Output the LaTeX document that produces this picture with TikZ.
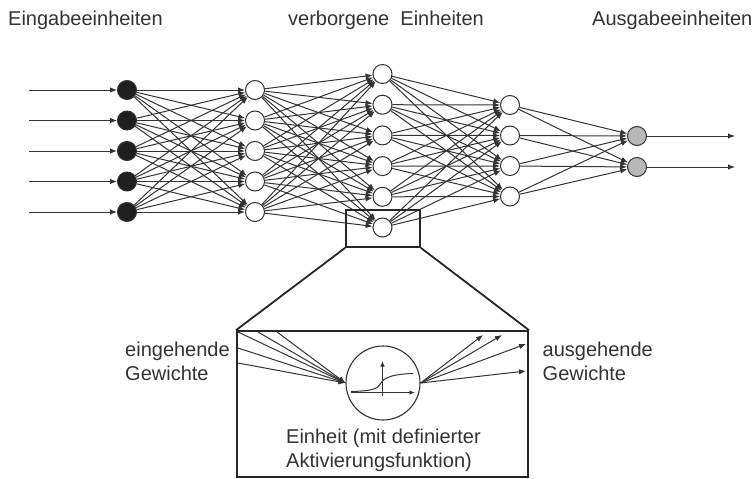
\documentclass[tikz,border=0pt]{standalone}
\usepackage{fontspec}
\setmainfont{Liberation Sans}
\usetikzlibrary{arrows.meta}
\definecolor{linec}{gray}{0.2}
\definecolor{txtc}{gray}{0.2}
\begin{document}
\begin{tikzpicture}[x=1pt,y=-1pt,
  unit/.style={circle,draw=linec,line width=1pt,minimum size=19pt,inner sep=0pt,fill=white},
  inunit/.style={unit,fill=black!88},
  outunit/.style={unit,fill=black!28},
  conn/.style={draw=linec,line width=1pt,-{Latex[length=7pt,width=5.5pt]}},
  frame/.style={draw=black!85,line width=1.8pt,inner sep=0pt},
  lbl/.style={font=\fontsize{20}{24}\selectfont,text=txtc,inner sep=0pt}]
\useasboundingbox (0,0) rectangle (756,479);

% titles
\node[lbl,anchor=base west] (t1) at (8,26) {Eingabeeinheiten};
\node[lbl,anchor=base] (t2) at (386,26) {verborgene~~Einheiten};
\node[lbl,anchor=base west] (t3) at (592,26) {Ausgabeeinheiten};

% units
\foreach \i/\y in {1/90,2/120.5,3/151,4/181.5,5/212} {
  \node[inunit] (a\i) at (127,\y) {};
  \node[unit] (b\i) at (255,\y) {};
  \coordinate (in\i) at (29,\y);
}
\foreach \i/\y in {1/74,2/104.7,3/135.4,4/166.1,5/196.8,6/227.5}
  \node[unit] (c\i) at (382.5,\y) {};
\foreach \i/\y in {1/105,2/135.5,3/166,4/196.5}
  \node[unit] (d\i) at (510,\y) {};
\foreach \i/\y in {1/136,2/167} {
  \node[outunit] (e\i) at (637,\y) {};
  \coordinate (out\i) at (735,\y);
}

% connections
\foreach \i in {1,...,5} \draw[conn] (in\i) -- (a\i);
\foreach \i in {1,...,5} \foreach \j in {1,...,5} \draw[conn] (a\i) -- (b\j);
\foreach \i in {1,...,5} \foreach \j in {1,...,6} \draw[conn] (b\i) -- (c\j);
\foreach \i in {1,...,6} \foreach \j in {1,...,4} \draw[conn] (c\i) -- (d\j);
\foreach \i in {1,...,4} \foreach \j in {1,2} \draw[conn] (d\i) -- (e\j);
\foreach \i in {1,2} \draw[conn] (e\i) -- (out\i);

% zoom
\node[frame,minimum width=74pt,minimum height=37pt] (zoom) at (383,228.5) {};
\node[frame,minimum width=291pt,minimum height=146pt] (big) at (382.5,404) {};
\draw[frame] (zoom.south west) -- (big.north west);
\draw[frame] (zoom.south east) -- (big.north east);

\node[circle,draw=linec,line width=1.1pt,minimum size=74pt,inner sep=0pt] (neuron) at (383,383) {};

\foreach \k/\p in {1/{238,332},2/{258,332},3/{277,332},4/{238,348},5/{238,363}} {
  \coordinate (w\k) at (\p);
  \draw[conn] (w\k) -- (neuron.west);
}
\foreach \k/\p in {1/{483,335},2/{502,335},3/{526,344},4/{526,371}} {
  \coordinate (o\k) at (\p);
  \draw[conn] (neuron.east) -- (o\k);
}

% activation function
\draw[linec,line width=1pt,-{Latex[length=5.5pt,width=4.5pt]}] (382.5,396) -- (382.5,361);
\draw[linec,line width=1pt,-{Latex[length=5.5pt,width=4.5pt]}] (351,392.5) -- (415,392.5);
\draw[linec,line width=1pt] (351,391.5) .. controls (372,391) and (378,389) .. (381,383)
  .. controls (384,377) and (395,374) .. (413,373.5);

% labels
\node[lbl,anchor=north west,align=left] (lin) at (125,341.5) {eingehende\\Gewichte};
\node[lbl,anchor=north west,align=left] (lout) at (542.5,341.5) {ausgehende\\Gewichte};
\node[lbl,anchor=north west,align=left] (lunit) at (286,428.5) {Einheit (mit definierter\\Aktivierungsfunktion)};
\end{tikzpicture}
\end{document}
